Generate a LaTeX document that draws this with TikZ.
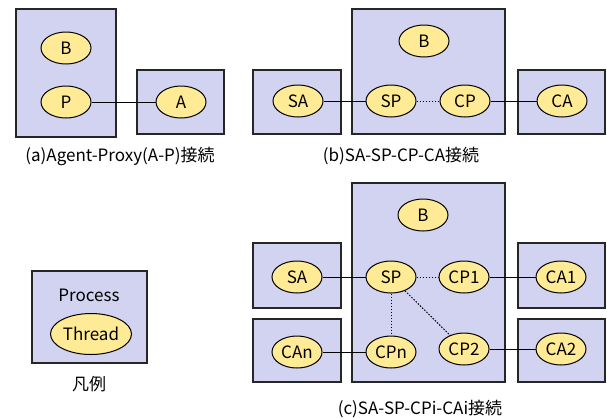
\documentclass[tikz,border=0pt]{standalone}
\usepackage{fontspec}
\setmainfont{Noto Sans CJK JP}
\usetikzlibrary{shapes.geometric}

\definecolor{procfill}{RGB}{210,211,240}
\definecolor{thrfill}{RGB}{255,234,150}

\tikzset{
	proc/.style={draw=black!85, line width=1.3pt, fill=procfill},
	thr/.style={ellipse, draw=black, line width=1pt, fill=thrfill, inner sep=0pt,
		minimum width=50pt, minimum height=32pt, font=\fontsize{17}{17}\selectfont},
	link/.style={line width=1pt},
	dots/.style={line width=1pt, dash pattern=on 1.5pt off 1.5pt},
	lbl/.style={font=\fontsize{17}{17}\selectfont}
}

\begin{document}
\begin{tikzpicture}[x=1pt, y=-1pt]
	\useasboundingbox (0, 0) rectangle (607, 418);

	% (a) agent - proxy
	\draw [proc] (16, 9) rectangle (116, 137);
	\draw [proc] (137, 70) rectangle (224, 134);
	\node [thr] (aB) at (66, 48) {B};
	\node [thr] (aP) at (66, 102) {P};
	\node [thr] (aA) at (181, 102) {A};
	\draw [link] (aP) -- (aA);
	\node [lbl] (capa) at (120, 156) {(a)Agent-Proxy(A-P)接続};

	% (b) SA-SP-CP-CA
	\draw [proc] (253, 70) rectangle (341, 134);
	\draw [proc] (352, 9) rectangle (505, 134);
	\draw [proc] (518, 70) rectangle (605, 134);
	\node [thr] (bB) at (424, 41) {B};
	\node [thr] (bSA) at (298, 101) {SA};
	\node [thr] (bSP) at (391, 101) {SP};
	\node [thr] (bCP) at (465, 101) {CP};
	\node [thr] (bCA) at (562, 101) {CA};
	\draw [link] (bSA) -- (bSP);
	\draw [dots] (bSP) -- (bCP);
	\draw [link] (bCP) -- (bCA);
	\node [lbl] (capb) at (401, 156) {(b)SA-SP-CP-CA接続};

	% legend
	\draw [proc] (32, 271) rectangle (147, 363);
	\node [lbl] (lproc) at (89, 295) {Process};
	\node [thr, minimum width=81pt, minimum height=41pt] (lthr) at (91, 334) {Thread};
	\node [lbl] (capl) at (89, 384) {凡例};

	% (c) SA-SP-CPi-CAi
	\draw [proc] (352, 183) rectangle (505, 382);
	\draw [proc] (253, 243) rectangle (341, 308);
	\draw [proc] (253, 319) rectangle (341, 382);
	\draw [proc] (518, 243) rectangle (605, 308);
	\draw [proc] (518, 319) rectangle (605, 382);
	\node [thr] (cB) at (423, 215) {B};
	\node [thr] (cSA) at (297, 277) {SA};
	\node [thr] (cSP) at (391, 277) {SP};
	\node [thr] (cCP1) at (464, 277) {CP1};
	\node [thr] (cCA1) at (561, 277) {CA1};
	\node [thr] (cCAn) at (297, 352) {CAn};
	\node [thr] (cCPn) at (391, 352) {CPn};
	\node [thr] (cCP2) at (464, 349) {CP2};
	\node [thr] (cCA2) at (561, 349) {CA2};
	\draw [link] (cSA) -- (cSP);
	\draw [dots] (cSP) -- (cCP1);
	\draw [dots] (cSP) -- (cCPn);
	\draw [dots] (cSP) -- (cCP2);
	\draw [link] (cCP1) -- (cCA1);
	\draw [link] (cCPn) -- (cCAn);
	\draw [link] (cCP2) -- (cCA2);
	\node [lbl] (capc) at (420, 409) {(c)SA-SP-CPi-CAi接続};
\end{tikzpicture}
\end{document}
